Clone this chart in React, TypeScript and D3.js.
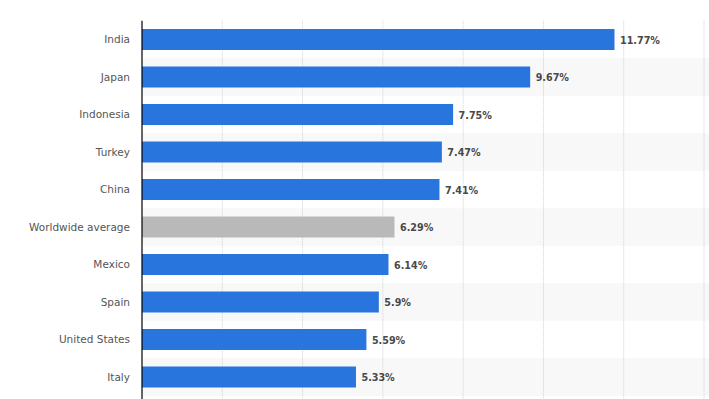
import React from "react";
import * as d3 from "d3";

const categories = ["India", "Japan", "Indonesia", "Turkey", "China", "Worldwide average", "Mexico", "Spain", "United States", "Italy"];
const values = [11.77, 9.67, 7.75, 7.47, 7.41, 6.29, 6.14, 5.9, 5.59, 5.33];
const valueLabels = ["11.77%", "9.67%", "7.75%", "7.47%", "7.41%", "6.29%", "6.14%", "5.9%", "5.59%", "5.33%"];
const highlight = ["Worldwide average"];
const xTicks = [0, 2, 4, 6, 8, 10, 12, 14];

const W = 709;
const H = 399;
const left = 142;
const right = 704;
const top = 20.75;
const bottom = 395.75;

export default function App() {
  const x = d3.scaleLinear().domain([0, 14]).range([left, right]);
  const y = d3.scaleBand<string>().domain(categories).range([top, bottom]).paddingInner(0).paddingOuter(0);
  const bw = y.bandwidth();
  const barH = 21;
  return (
    <svg width={W} height={H} style={{ position: "absolute", left: 0, top: 0, display: "block" }}>
      <rect x={0} y={0} width={W} height={H} fill="#ffffff" />
      {categories.map((c, i) =>
        i % 2 === 1 ? (
          <rect key={"band" + c} x={left} y={y(c)!} width={W - left} height={bw} fill="#f8f8f8" />
        ) : null
      )}
      {xTicks.slice(1).map((t) => (
        <line key={"g" + t} x1={x(t)} x2={x(t)} y1={top} y2={H} stroke="#d0d0d0" strokeWidth={1} strokeDasharray="1,1" />
      ))}
      {categories.map((c, i) => {
        const cy = y(c)! + bw / 2;
        return (
          <g key={c}>
            <rect
              x={x(0)}
              y={cy - barH / 2}
              width={x(values[i]) - x(0)}
              height={barH}
              fill={highlight.includes(c) ? "#b9b9b9" : "#2876dd"}
            />
            <text
              x={130}
              y={cy}
              dy="0.35em"
              textAnchor="end"
              fontFamily="'DejaVu Sans', Verdana, sans-serif"
              fontSize={10.5}
              fill="#555555"
            >
              {c}
            </text>
            <text
              x={x(values[i]) + 5.5}
              y={cy + 1}
              dy="0.35em"
              textAnchor="start"
              fontFamily="'DejaVu Sans', Verdana, sans-serif"
              fontSize={9.6}
              fontWeight="bold"
              fill="#484848"
            >
              {valueLabels[i]}
            </text>
          </g>
        );
      })}
      <line x1={left} x2={left} y1={top} y2={H} stroke="#000000" strokeWidth={1.2} />
    </svg>
  );
}
